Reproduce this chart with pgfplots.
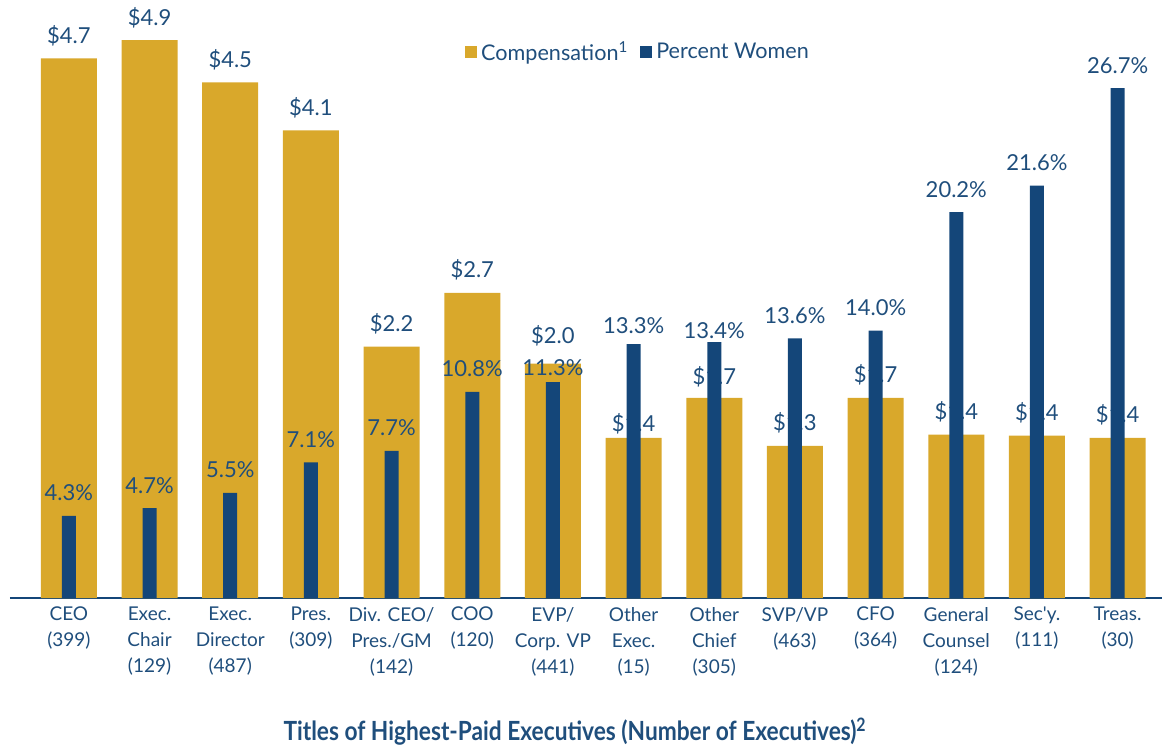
\documentclass[border=0pt]{standalone}
\usepackage{pgfplots}
\pgfplotsset{compat=1.18}
\usepackage{pgfplotstable}
\usepackage{fontspec}
\setmainfont{Lato}[Ligatures=TeXOff]
\definecolor{gold}{HTML}{D9A82B}
\definecolor{navy}{HTML}{144679}
\definecolor{txt}{HTML}{1F4E7C}

% comp = bar height ($M), compl = printed label; pct = percent women
% cdy / pdy = extra label offsets (pt)
\pgfplotstableread{
x comp compl cdy pct pdy
0  4.72 4.7 0    4.3  0
1  4.88 4.9 0    4.7  0
2  4.51 4.5 0    5.5  0
3  4.09 4.1 0    7.1  0
4  2.20 2.2 0    7.7  0
5  2.67 2.7 0    10.8 0
6  2.05 2.0 2.5  11.3 -4
7  1.40 1.4 -4.5 13.3 -2
8  1.75 1.7 -1   13.4 -5.5
9  1.33 1.3 0    13.6 0
10 1.75 1.7 0    14.0 0
11 1.43 1.4 0    20.2 0
12 1.42 1.4 0    21.6 0
13 1.40 1.4 0    26.7 0
}\data

\pgfplotsset{
  base/.style={
    scale only axis, width=576pt, height=294pt,
    at={(5pt,74pt)}, anchor=south west,
    xmin=-0.73, xmax=13.55, ymin=0,
    /pgf/number format/assume math mode=true,
    every node near coord/.append style={font=\fontsize{11}{13}\selectfont, text=txt, anchor=base, yshift=7.5pt},
  }
}

\begin{document}
\begin{tikzpicture}
\path[use as bounding box] (0,0) rectangle (581pt,373pt);
\begin{axis}[base, ymax=5.144,
  axis x line=bottom, axis y line=none,
  axis line style={navy, line width=1pt, -},
  xtick=data, major tick length=0,
  xticklabels={{CEO\\(399)},{Exec.\\Chair\\(129)},{Exec.\\Director\\(487)},{Pres.\\(309)},{Div. CEO/\\Pres./GM\\(142)},{COO\\(120)},{EVP/\\Corp. VP\\(441)},{Other\\Exec.\\(15)},{Other\\Chief\\(305)},{SVP/VP\\(463)},{CFO\\(364)},{General\\Counsel\\(124)},{Sec'y.\\(111)},{Treas.\\(30)}},
  xticklabel style={align=center, text=txt, font=\fontsize{9.5}{13}\selectfont, yshift=-1pt},
  ybar, bar width=28pt,
  point meta=explicit,
  nodes near coords={\$\pgfmathprintnumber[fixed,fixed zerofill,precision=1]{\pgfplotspointmeta}},
]
\addplot[fill=gold, draw=none,
  visualization depends on={\thisrow{cdy} \as \cdy},
  every node near coord/.append style={yshift=\cdy*1pt}]
  table[x=x, y=comp, meta=compl] {\data};
\end{axis}
\begin{axis}[base, ymax=30.79,
  axis lines=none, ticks=none,
  ybar, bar width=7pt,
  nodes near coords={\pgfmathprintnumber[fixed,fixed zerofill,precision=1]{\pgfplotspointmeta}\%},
  legend style={draw=none, fill=none, at={(0.546,0.928)}, anchor=center, legend columns=2,
    font=\fontsize{10.8}{12}\selectfont, text=txt,
    /tikz/every even column/.append style={column sep=4pt}},
  legend image code/.code={\fill[#1] (0pt,-3pt) rectangle (6pt,3pt);},
]
\addlegendimage{fill=gold, draw=none}
\addlegendentry{Compensation\textsuperscript{1}}
\addplot[fill=navy, draw=none,
  visualization depends on={\thisrow{pdy} \as \pdy},
  every node near coord/.append style={yshift=\pdy*1pt}]
  table[x=x, y=pct] {\data};
\addlegendentry{Percent Women}
\end{axis}
\node[anchor=base, text=txt, inner sep=0pt] at (287.5pt,3pt) {\scalebox{0.86}[1]{\bfseries\fontsize{13.2}{15}\selectfont Titles of Highest-Paid Executives (Number of Executives)\textsuperscript{2}}};
\end{tikzpicture}
\end{document}
